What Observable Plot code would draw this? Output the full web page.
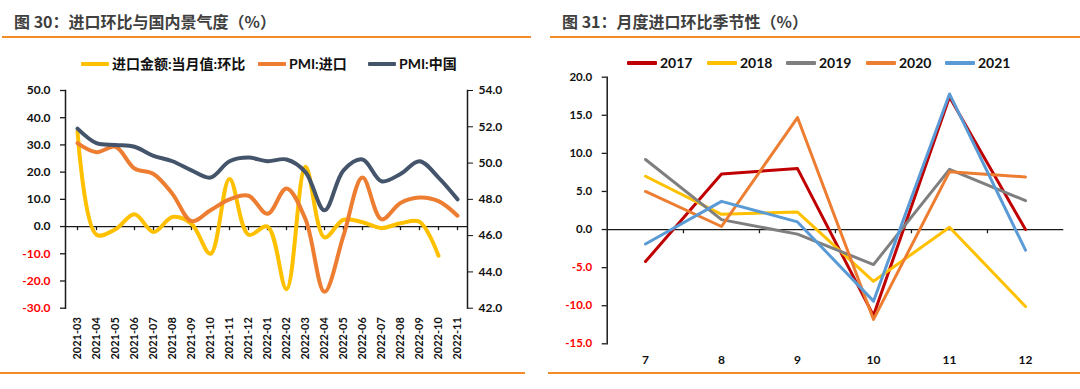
<!DOCTYPE html>
<html><head><meta charset="utf-8">
<script src="https://cdn.jsdelivr.net/npm/d3@7"></script>
<script src="https://cdn.jsdelivr.net/npm/@observablehq/plot@0.6"></script>
<style>
html,body{margin:0;padding:0;background:#fff;}
body{width:1080px;height:389px;position:relative;overflow:hidden;font-family:Lato,"Noto Sans CJK SC",sans-serif;}
.title{position:absolute;font-family:"Noto Sans CJK SC",sans-serif;font-weight:bold;font-size:16px;color:#404040;white-space:nowrap;line-height:16px;}
.hr{position:absolute;height:2px;background:#F28C28;}
.item{position:absolute;display:flex;align-items:center;font-weight:bold;font-size:14px;color:#111;white-space:nowrap;line-height:18px;}
.item .lbl{font-family:Lato,"Noto Sans CJK SC",sans-serif;}
.sw{display:inline-block;height:4px;margin-right:3px;border-radius:1px;}
.chart{position:absolute;}
.chart svg{background:transparent;}
</style></head><body>
<div class="title" style="left:14px;top:13px">图 30：进口环比与国内景气度（%）</div>
<div class="title" style="left:562px;top:13px">图 31：月度进口环比季节性（%）</div>
<div class="hr" style="left:2px;width:529px;top:35.5px"></div>
<div class="hr" style="left:550px;width:530px;top:35.5px"></div>
<div class="hr" style="left:0px;width:525px;top:371.5px"></div>
<div class="hr" style="left:548px;width:532px;top:371.5px"></div>
<div id="chartA" class="chart" style="left:0;top:70px"></div>
<div id="chartB" class="chart" style="left:0;top:70px"></div>
<div id="chartC" class="chart" style="left:540px;top:60px"></div>
<script>
// ---------- Data: left panel ----------
const months = ["2021-03","2021-04","2021-05","2021-06","2021-07","2021-08","2021-09","2021-10","2021-11","2021-12",
  "2022-01","2022-02","2022-03","2022-04","2022-05","2022-06","2022-07","2022-08","2022-09","2022-10","2022-11"];
// 进口金额:当月值:环比 (left axis), 2021-03 .. 2022-10
const importMoM = [35, -3, -1, 4.5, -2, 3.5, 1.0, -10, 17.5, -3, 0, -23, 22, -4, 2.5, 1.6, -0.5, 1.2, 1.8, -10.7];
// PMI:进口 (right axis)
const pmiImport = [51.1, 50.6, 50.9, 49.7, 49.4, 48.3, 46.8, 47.4, 48.0, 48.2, 47.2, 48.6, 46.9, 42.9, 46.0, 49.2, 46.9, 47.8, 48.1, 47.9, 47.1];
// PMI:中国 (right axis)
const pmiChina = [51.9, 51.1, 51.0, 50.9, 50.4, 50.1, 49.6, 49.2, 50.1, 50.3, 50.1, 50.2, 49.5, 47.4, 49.6, 50.2, 49.0, 49.4, 50.1, 49.2, 48.0];
const leftTicks = [-30, -20, -10, 0, 10, 20, 30, 40, 50];
const rightTicks = [42, 44, 46, 48, 50, 52, 54];
const seriesL = ["进口金额:当月值:环比", "PMI:进口", "PMI:中国"];
const colorsL = ["#FFC000", "#ED7D31", "#44546A"];

// ---------- Data: right panel ----------
const monthsR = ["7", "8", "9", "10", "11", "12"];
const years = ["2017", "2018", "2019", "2020", "2021"];
const v2017 = [-4.2, 7.3, 8.0, -11.3, 17.4, 0.0];
const v2018 = [7.0, 2.0, 2.3, -6.8, 0.3, -10.1];
const v2019 = [9.2, 1.3, -0.6, -4.6, 7.9, 3.8];
const v2020 = [5.0, 0.4, 14.7, -11.8, 7.6, 6.9];
const v2021 = [-1.9, 3.7, 1.0, -9.4, 17.8, -2.7];
const yTicksR = [-15, -10, -5, 0, 5, 10, 15, 20];
const colorsR = ["#C00000", "#FFC000", "#7F7F7F", "#ED7D31", "#5B9BD5"];

const fmt = d => d.toFixed(1);
const FONT = "Lato, 'Noto Sans CJK SC', sans-serif";
const AX = "#1a1a1a";

// ---------- Left panel ----------
const W1 = 530, H1 = 300, ML = 65, MR = 63, MT = 20, MB = 62.3;
const xL = {type: "point", domain: months, padding: 0, insetLeft: 2.5};
const yellowData = importMoM.map((v, i) => ({month: months[i], value: v}));
const impData = pmiImport.map((v, i) => ({month: months[i], value: v}));
const chnData = pmiChina.map((v, i) => ({month: months[i], value: v}));

const plotA = Plot.plot({
  width: W1, height: H1, marginLeft: ML, marginRight: MR, marginTop: MT, marginBottom: MB,
  style: {fontFamily: FONT, background: "transparent"},
  x: xL,
  y: {domain: [-30, 50]},
  marks: [
    Plot.ruleY([0], {stroke: AX, strokeWidth: 1.3}),
    Plot.ruleX(months, {y1: 0, y2: -1.5, stroke: AX, strokeWidth: 1.3}),
    Plot.frame({anchor: "left", stroke: AX, strokeWidth: 1.5}),
    Plot.axisY({ticks: leftTicks, tickSize: 5, tickFormat: () => "", stroke: AX, strokeWidth: 1.3, label: null}),
    Plot.axisY({ticks: leftTicks.filter(d => d >= 0), tickSize: 0, tickPadding: 15, tickFormat: fmt, fontSize: 12, fontWeight: "bold", color: "#111", label: null}),
    Plot.axisY({ticks: leftTicks.filter(d => d < 0), tickSize: 0, tickPadding: 15, tickFormat: fmt, fontSize: 12, fontWeight: "bold", color: "#FF0000", label: null}),
    Plot.axisX({tickSize: 0, tickPadding: 9, tickRotate: -90, fontSize: 11, fontWeight: "bold", color: "#111", label: null}),
    Plot.line(yellowData, {x: "month", y: "value", stroke: colorsL[0], strokeWidth: 4, curve: "catmull-rom"})
  ]
});
document.getElementById("chartA").append(plotA);

const plotB = Plot.plot({
  width: W1, height: H1, marginLeft: ML, marginRight: MR, marginTop: MT, marginBottom: MB,
  style: {fontFamily: FONT, background: "transparent"},
  x: {...xL, axis: null},
  y: {domain: [42, 54], axis: null},
  marks: [
    Plot.frame({anchor: "right", stroke: AX, strokeWidth: 1.5}),
    Plot.axisY({anchor: "right", ticks: rightTicks, tickSize: 5, tickPadding: 6, tickFormat: fmt, fontSize: 12, fontWeight: "bold", color: "#111", label: null}),
    Plot.line(impData, {x: "month", y: "value", stroke: colorsL[1], strokeWidth: 4, curve: "catmull-rom"}),
    Plot.line(chnData, {x: "month", y: "value", stroke: colorsL[2], strokeWidth: 4, curve: "catmull-rom"})
  ]
});
plotB.style.pointerEvents = "none";
document.getElementById("chartB").append(plotB);

// ---------- Right panel ----------
const W2 = 540, H2 = 310, ML2 = 66.7, MR2 = 16.7, MT2 = 16.7, MB2 = 26.7;
const bw = (W2 - ML2 - MR2) / monthsR.length;
const valuesR = [v2017, v2018, v2019, v2020, v2021];
const rowsR = years.flatMap((yr, k) => valuesR[k].map((v, i) => ({month: monthsR[i], year: yr, value: v})));

const plotC = Plot.plot({
  width: W2, height: H2, marginLeft: ML2, marginRight: MR2, marginTop: MT2, marginBottom: MB2,
  style: {fontFamily: FONT, background: "transparent"},
  x: {type: "band", domain: monthsR, padding: 0},
  y: {domain: [-15, 20]},
  color: {domain: years, range: colorsR},
  marks: [
    Plot.ruleY([0], {stroke: AX, strokeWidth: 1.3}),
    Plot.ruleX(monthsR.slice(1), {y1: 0, y2: -0.55, dx: -bw / 2, stroke: AX, strokeWidth: 1.3}),
    Plot.frame({anchor: "left", stroke: AX, strokeWidth: 1.5}),
    Plot.axisY({ticks: yTicksR, tickSize: 5, tickFormat: () => "", stroke: AX, strokeWidth: 1.3, label: null}),
    Plot.axisY({ticks: yTicksR.filter(d => d >= 0), tickSize: 0, tickPadding: 15, tickFormat: fmt, fontSize: 11.5, fontWeight: "bold", color: "#111", label: null}),
    Plot.axisY({ticks: yTicksR.filter(d => d < 0), tickSize: 0, tickPadding: 15, tickFormat: fmt, fontSize: 11.5, fontWeight: "bold", color: "#FF0000", label: null}),
    Plot.axisX({tickSize: 0, tickPadding: 12, fontSize: 12, fontWeight: "bold", color: "#111", label: null}),
    Plot.line(rowsR, {x: "month", y: "value", z: "year", stroke: "year", strokeWidth: 3})
  ]
});
document.getElementById("chartC").append(plotC);

// ---------- Legends ----------
function legendItem(x, y, color, text, swW) {
  const d = document.createElement("div");
  d.className = "item";
  d.style.left = x + "px";
  d.style.top = y + "px";
  const s = document.createElement("span");
  s.className = "sw";
  s.style.width = swW + "px";
  s.style.background = color;
  const t = document.createElement("span");
  t.className = "lbl";
  t.textContent = text;
  d.append(s, t);
  document.body.append(d);
}
const legL_x = [81, 258, 368];
seriesL.forEach((s, i) => legendItem(legL_x[i], 55, colorsL[i], s, 28));
const legR_x = [627, 707, 786, 866, 945];
years.forEach((y, i) => legendItem(legR_x[i], 54, colorsR[i], y, 30));
</script>
</body></html>
